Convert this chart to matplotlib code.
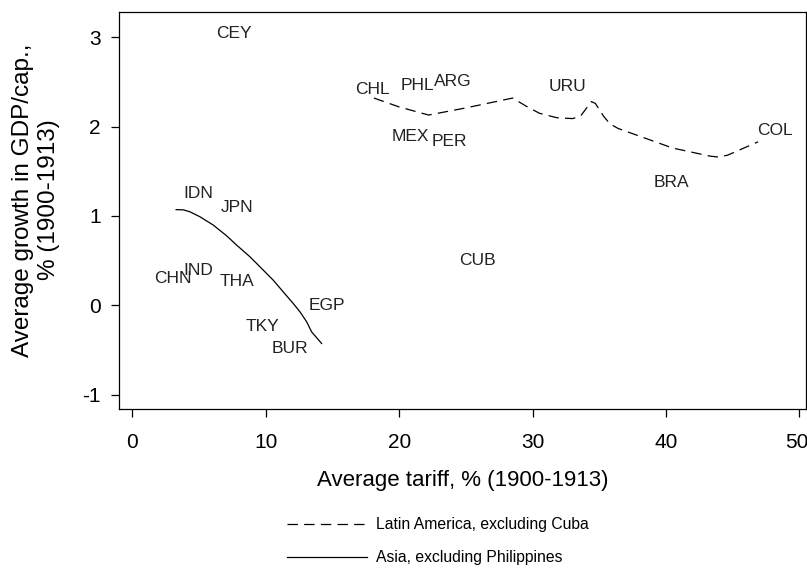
import matplotlib
matplotlib.use("Agg")
import matplotlib.pyplot as plt
import matplotlib.transforms as mtransforms
from matplotlib.lines import Line2D

plt.rcParams['font.family'] = ['Liberation Sans', 'DejaVu Sans']
plt.rcParams['lines.scale_dashes'] = False
plt.rcParams['axes.unicode_minus'] = False

# Country labels (tariff %, GDP growth %)
countries = ["CEY", "CHL", "PHL", "ARG", "URU", "MEX", "PER", "COL", "BRA",
             "IDN", "JPN", "CHN", "IND", "THA", "CUB", "EGP", "TKY", "BUR"]
tariff = [6.3, 16.7, 20.1, 22.6, 31.2, 19.4, 22.4, 46.8, 39.1,
          3.8, 6.6, 1.6, 3.8, 6.5, 24.5, 13.2, 8.5, 10.4]
growth = [3.04, 2.42, 2.46, 2.51, 2.45, 1.89, 1.83, 1.96, 1.37,
          1.25, 1.10, 0.30, 0.39, 0.27, 0.50, 0.00, -0.24, -0.48]

# Smoothed fit, Latin America excluding Cuba
latam_x = [18.1, 20.0, 22.2, 25.0, 28.5, 29.5, 30.5, 31.8, 33.0, 33.6, 34.4,
           34.7, 35.3, 35.8, 36.4, 40.5, 43.3, 43.9, 44.6, 46.9]
latam_y = [2.32, 2.22, 2.13, 2.21, 2.32, 2.23, 2.15, 2.10, 2.09, 2.12, 2.28,
           2.26, 2.12, 2.03, 1.98, 1.76, 1.67, 1.66, 1.68, 1.83]

# Smoothed fit, Asia excluding Philippines
asia_x = [3.27, 3.81, 4.31, 5.06, 6.06, 7.06, 7.81, 8.81, 9.56, 10.55,
          11.30, 12.05, 12.56, 13.06, 13.43, 14.18]
asia_y = [1.071, 1.069, 1.047, 0.991, 0.898, 0.778, 0.674, 0.543, 0.431,
          0.282, 0.151, 0.021, -0.073, -0.185, -0.297, -0.427]

xticks = [0, 10, 20, 30, 40, 50]
yticks = [-1, 0, 1, 2, 3]

W, H = 807, 573
fig = plt.figure(figsize=(W / 100, H / 100), dpi=100)
ax = fig.add_axes([119 / W, (H - 409) / H, (806 - 119) / W, (409 - 12) / H])

ax.plot(latam_x, latam_y, color='black', lw=0.9, dashes=(7.5, 4.5))
ax.plot(asia_x, asia_y, color='black', lw=0.9)

for name, x, y in zip(countries, tariff, growth):
    ax.text(x, y, name, fontsize=12.5, ha='left', va='center', color='#222222')

ax.set_xlim(-1.01, 50.49)
ax.set_ylim(-1.16, 3.283)
ax.set_xticks(xticks)
ax.set_yticks(yticks)
ax.tick_params(axis='both', direction='out', length=6, width=0.9,
               labelsize=15, colors='black')
ax.tick_params(axis='x', pad=11)
ax.tick_params(axis='y', pad=7)
for s in ax.spines.values():
    s.set_linewidth(0.9)

# keep the last x tick label inside the picture
last = ax.get_xticklabels()[-1]
last.set_transform(last.get_transform() +
                   mtransforms.ScaledTranslation(-3 / 100, 0, fig.dpi_scale_trans))

ax.set_xlabel("Average tariff, % (1900-1913)", fontsize=16, labelpad=13)
fig.text(36 / W, (H - 200) / H, "Average growth in GDP/cap.,\n% (1900-1913)",
         rotation=90, ha='center', va='center', multialignment='center',
         fontsize=17.5, linespacing=1.2)

handles = [Line2D([], [], color='black', lw=0.9, dashes=(7.5, 4.5)),
           Line2D([], [], color='black', lw=0.9)]
labels = ["Latin America, excluding Cuba", "Asia, excluding Philippines"]
fig.legend(handles, labels, loc='upper left',
           bbox_to_anchor=(287 / W, (H - 517) / H), frameon=False,
           fontsize=11.3, handlelength=5.1, handletextpad=0.6,
           labelspacing=1.15, borderaxespad=0, borderpad=0)

fig.savefig("out.png", dpi=100)
